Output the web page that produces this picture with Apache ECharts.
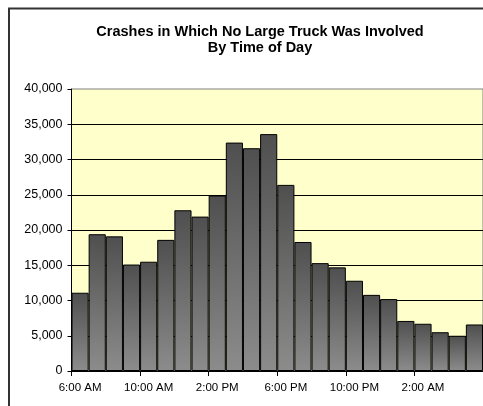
<!DOCTYPE html>
<html>
<head>
<meta charset="utf-8">
<script src="https://cdn.jsdelivr.net/npm/echarts@6/dist/echarts.min.js"></script>
<style>
  html, body { margin: 0; padding: 0; background: #fff; }
  #chart { width: 483px; height: 406px; }
</style>
</head>
<body>
<div id="chart"></div>
<script>
  // hour of day, starting at 6 AM
  var hours = ['6:00 AM', '7:00 AM', '8:00 AM', '9:00 AM', '10:00 AM', '11:00 AM',
    '12:00 PM', '1:00 PM', '2:00 PM', '3:00 PM', '4:00 PM', '5:00 PM',
    '6:00 PM', '7:00 PM', '8:00 PM', '9:00 PM', '10:00 PM', '11:00 PM',
    '12:00 AM', '1:00 AM', '2:00 AM', '3:00 AM', '4:00 AM', '5:00 AM'];
  var crashes = [11100, 19400, 19100, 15100, 15500, 18600,
    22800, 21900, 24900, 32400, 31600, 33600,
    26400, 18300, 15300, 14700, 12800, 10800,
    10200, 7100, 6700, 5500, 5000, 6600];
  // one label (and tick) every 4 hours
  var labelEvery = 4;
  var yTicks = { min: 0, max: 40000, step: 5000 };

  var font = '"Liberation Sans", Arial, sans-serif';
  var myChart = echarts.init(document.getElementById('chart'));
  var option = {
    animation: false,
    backgroundColor: '#fff',
    title: {
      text: 'Crashes in Which No Large Truck Was Involved\nBy Time of Day',
      left: 255,
      top: 19,
      textAlign: 'center',
      textStyle: {
        fontFamily: font,
        fontSize: 14.5,
        fontWeight: 'bold',
        color: '#000',
        lineHeight: 16
      }
    },
    graphic: [{
      type: 'rect',
      silent: true,
      shape: { x: 9, y: 8.5, width: 600, height: 600 },
      style: { fill: 'none', stroke: '#333', lineWidth: 2 }
    }],
    grid: {
      left: 71.5,
      right: -1,
      top: 89,
      bottom: 35,
      show: true,
      backgroundColor: '#FFFFCC',
      borderColor: '#808080',
      borderWidth: 1
    },
    xAxis: {
      type: 'category',
      data: hours,
      boundaryGap: true,
      axisLine: { show: true, lineStyle: { color: '#000', width: 1 } },
      axisTick: { show: true, interval: labelEvery - 1, length: 5, lineStyle: { color: '#000' } },
      axisLabel: {
        interval: labelEvery - 1,
        margin: 11,
        fontFamily: font,
        fontSize: 11.5,
        color: '#000'
      },
      splitLine: { show: false }
    },
    yAxis: {
      type: 'value',
      min: yTicks.min,
      max: yTicks.max,
      interval: yTicks.step,
      axisLine: { show: true, lineStyle: { color: '#000', width: 1 } },
      axisTick: { show: true, length: 4, lineStyle: { color: '#000' } },
      axisLabel: {
        margin: 9,
        fontFamily: font,
        fontSize: 12.5,
        color: '#000',
        formatter: function (v) { return v.toLocaleString('en-US'); }
      },
      splitLine: { show: true, showMaxLine: false, lineStyle: { color: '#000', width: 1 } }
    },
    series: [{
      type: 'bar',
      data: crashes,
      barCategoryGap: '0%',
      itemStyle: {
        color: new echarts.graphic.LinearGradient(0, 0, 0, 1, [
          { offset: 0, color: '#4f4f4f' },
          { offset: 1, color: '#8c8c8c' }
        ]),
        borderColor: '#000',
        borderWidth: 1
      }
    }]
  };
  myChart.setOption(option);
</script>
</body>
</html>
